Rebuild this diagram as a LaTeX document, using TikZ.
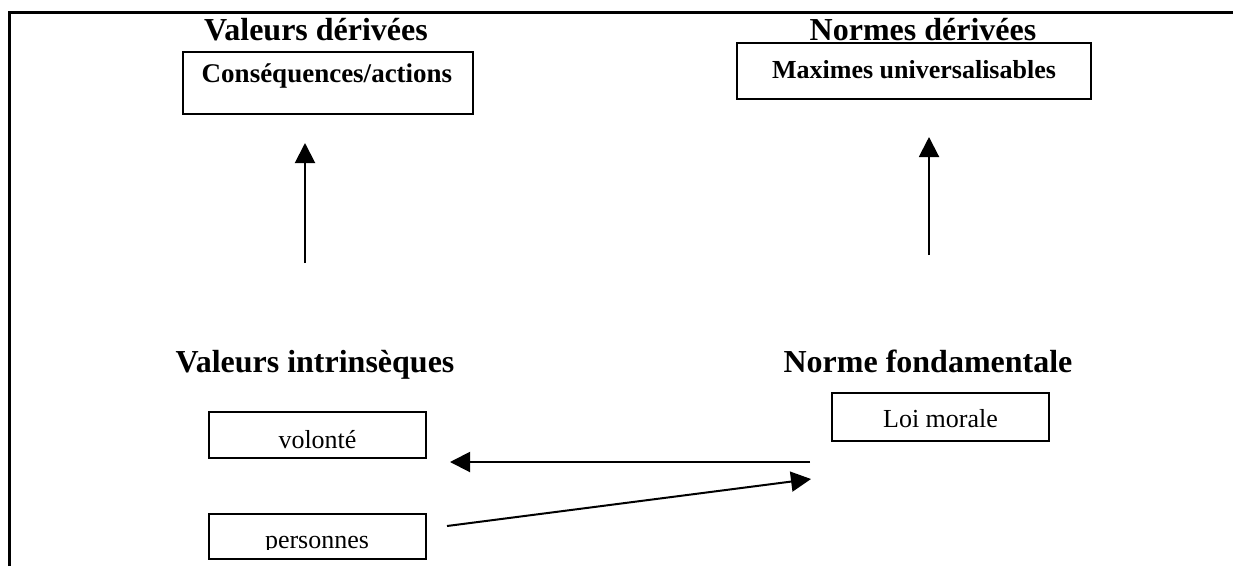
\documentclass[tikz,border=0pt]{standalone}
\usepackage{fontspec}
\setmainfont{Liberation Serif}
\usetikzlibrary{arrows.meta}
\tikzset{
  boxnode/.style={draw, line width=2pt, inner sep=0pt},
  headtext/.style={font=\fontsize{32}{36}\selectfont\bfseries, anchor=base, inner sep=0pt},
  boxtext/.style={font=\fontsize{26}{30}\selectfont, anchor=base, inner sep=0pt},
  arr/.style={line width=2pt, -{Triangle[length=20pt,width=20pt]}},
}
\begin{document}
\begin{tikzpicture}[x=1pt,y=-1pt]
\useasboundingbox (0,0) rectangle (1233,566);
% frame
\draw[line width=3pt] (9,566) -- (9,12) -- (1233,12);
% headings
\node[headtext] (vd) at (316,40) {Valeurs dérivées};
\node[headtext] (nd) at (923,40) {Normes dérivées};
\node[headtext] (vi) at (315,372) {Valeurs intrinsèques};
\node[headtext] (nf) at (928,372) {Norme fondamentale};
% boxes
\node[boxnode, minimum width=290pt, minimum height=62pt] (cons) at (328,83) {};
\node[boxtext, font=\fontsize{27}{30}\selectfont\bfseries] (consT) at (327,82) {Conséquences/actions};
\node[boxnode, minimum width=354pt, minimum height=56pt] (max) at (914,71) {};
\node[boxtext, font=\fontsize{26}{30}\selectfont\bfseries] (maxT) at (914,78) {Maximes universalisables};
\node[boxnode, minimum width=217pt, minimum height=46pt] (vol) at (317.5,435) {};
\node[boxtext] (volT) at (317.5,448) {volonté};
\node[boxnode, minimum width=217pt, minimum height=45pt] (pers) at (317.5,536.5) {};
\begin{scope}
\clip (200,500) rectangle (440,549);
\node[boxtext] (persT) at (317,548) {personnes};
\end{scope}
\node[boxnode, minimum width=217pt, minimum height=48pt] (loi) at (940.5,417) {};
\node[boxtext] (loiT) at (940.5,427) {Loi morale};
% arrow endpoints
\coordinate (a1s) at (305,263);
\coordinate (a1e) at (305,143);
\coordinate (a2s) at (929,255);
\coordinate (a2e) at (929,137);
\coordinate (a3s) at (810,462);
\coordinate (a3e) at (450,462);
\coordinate (a4s) at (447,526);
\coordinate (a4e) at (811,479);
\draw[arr] (a1s) -- (a1e);
\draw[arr] (a2s) -- (a2e);
\draw[arr] (a3s) -- (a3e);
\draw[arr] (a4s) -- (a4e);
\end{tikzpicture}
\end{document}
